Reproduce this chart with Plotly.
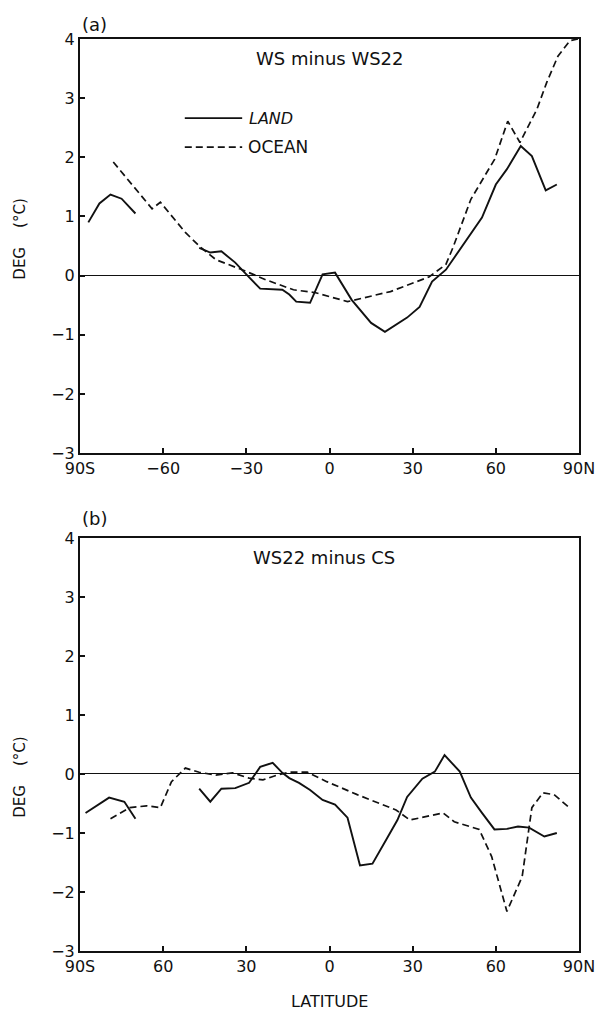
import plotly.graph_objects as go

# ---------------- data ----------------
lat_land_a = [-87, -83, -79, -75, -70, None, -47, -43, -39, -34, -30, -25, -17, -14.5, -12, -7, -2.5, 2, 8, 15, 20,
              28, 32.5, 37, 42, 49.5, 55, 60, 64, 69, 73, 78, 82]
val_land_a = [0.9, 1.22, 1.37, 1.3, 1.05, None, 0.47, 0.39, 0.41, 0.22, 0.02, -0.22, -0.24, -0.32, -0.44, -0.46, 0.02,
              0.05, -0.41, -0.8, -0.95, -0.71, -0.53, -0.1, 0.1, 0.62, 0.98, 1.54, 1.8, 2.19, 2.02, 1.44, 1.54]

lat_ocean_a = [-78, -72, -64, -61, -52, -47, -41, -30, -23, -13, -5, 6.5, 22, 36, 42, 44.5, 51, 59.6, 64.3, 68.7,
               74.8, 78.4, 82.4, 86.7, 89.6]
val_ocean_a = [1.92, 1.58, 1.13, 1.24, 0.73, 0.5, 0.27, 0.07, -0.07, -0.24, -0.29, -0.44, -0.27, -0.02, 0.19, 0.47,
               1.29, 1.97, 2.61, 2.25, 2.81, 3.27, 3.71, 3.97, 4.0]

lat_land_b = [-88, -79.5, -74, -70, None, -47, -43, -39, -34, -29, -25, -20.5, -17, -14.5, -11, -7, -2.5, 2, 6.5, 11,
              15.5, 20.5, 24.5, 28, 33.5, 38, 41.5, 47, 51, 55, 59.5, 64, 68, 72, 77.5, 82]
val_land_b = [-0.66, -0.4, -0.47, -0.76, None, -0.25, -0.47, -0.25, -0.24, -0.15, 0.12, 0.19, 0.02, -0.07, -0.15, -0.27,
              -0.44, -0.52, -0.74, -1.55, -1.52, -1.11, -0.78, -0.39, -0.08, 0.04, 0.32, 0.04, -0.4, -0.66, -0.94,
              -0.93, -0.89, -0.91, -1.06, -1.0]

lat_ocean_b = [-79, -72, -66, -61, -57, -52, -47, -41, -35, -29, -24, -19, -14.5, -8, -1, 10, 24, 29, 41, 45, 54,
               58.5, 64, 69.5, 73, 77, 81, 86.5]
val_ocean_b = [-0.76, -0.57, -0.54, -0.57, -0.13, 0.1, 0.03, -0.02, 0.02, -0.07, -0.1, -0.02, 0.03, 0.03, -0.13, -0.35,
               -0.61, -0.78, -0.66, -0.81, -0.94, -1.4, -2.33, -1.74, -0.57, -0.32, -0.35, -0.57]

x_tickvals = [-90, -60, -30, 0, 30, 60, 90]
x_ticktext_a = ["90S", "−60", "−30", "0", "30", "60", "90N"]
x_ticktext_b = ["90S", "60", "30", "0", "30", "60", "90N"]
y_tickvals = [-3, -2, -1, 0, 1, 2, 3, 4]

FONT = "DejaVu Sans, Liberation Sans, sans-serif"
BLACK = "#111111"
DASH = "7px,4px"
NB = "\u00a0"

fig = go.Figure()
fig.add_trace(go.Scatter(x=lat_land_a, y=val_land_a, mode="lines", line=dict(color=BLACK, width=1.9),
                         connectgaps=False, xaxis="x", yaxis="y", showlegend=False))
fig.add_trace(go.Scatter(x=lat_ocean_a, y=val_ocean_a, mode="lines", line=dict(color=BLACK, width=1.7, dash=DASH),
                         xaxis="x", yaxis="y", showlegend=False))
fig.add_trace(go.Scatter(x=lat_land_b, y=val_land_b, mode="lines", line=dict(color=BLACK, width=1.9),
                         connectgaps=False, xaxis="x2", yaxis="y2", showlegend=False))
fig.add_trace(go.Scatter(x=lat_ocean_b, y=val_ocean_b, mode="lines", line=dict(color=BLACK, width=1.7, dash=DASH),
                         xaxis="x2", yaxis="y2", showlegend=False))

axis_common = dict(showgrid=False, showline=True, linecolor=BLACK, linewidth=2, mirror=True,
                   ticks="inside", ticklen=5, tickwidth=1.5, tickcolor=BLACK, automargin=False,
                   tickfont=dict(family=FONT, size=16, color=BLACK))

fig.update_layout(
    width=597, height=1011,
    margin=dict(l=80, r=18, t=39, b=60, autoexpand=False),
    paper_bgcolor="white", plot_bgcolor="white",
    font=dict(family=FONT, color=BLACK),
    hovermode=False,
    xaxis=dict(domain=[0, 1], range=[-90, 90], tickvals=x_tickvals, ticktext=x_ticktext_a,
               zeroline=False, anchor="y", **axis_common),
    yaxis=dict(domain=[0.546, 1], range=[-3, 4], tickvals=y_tickvals, zeroline=True, zerolinecolor=BLACK,
               zerolinewidth=1.2, anchor="x", **axis_common),
    xaxis2=dict(domain=[0, 1], range=[-90, 90], tickvals=x_tickvals, ticktext=x_ticktext_b,
                zeroline=False, anchor="y2", **axis_common),
    yaxis2=dict(domain=[0, 0.4529], range=[-3, 4], tickvals=y_tickvals, zeroline=True, zerolinecolor=BLACK,
                zerolinewidth=1.2, anchor="x2", **axis_common),
)

# legend samples (panel a)
fig.add_shape(type="line", xref="x domain", yref="y domain", x0=0.21, x1=0.325, y0=0.809, y1=0.809,
              line=dict(color=BLACK, width=1.9))
fig.add_shape(type="line", xref="x domain", yref="y domain", x0=0.21, x1=0.325, y0=0.739, y1=0.739,
              line=dict(color=BLACK, width=1.7, dash=DASH))

ytitle = "DEG" + NB * 4 + "(°C)"
annots = [
    dict(text="<i>LAND</i>", xref="x domain", yref="y domain", x=0.335, y=0.809, xanchor="left", yanchor="middle",
         font=dict(size=16)),
    dict(text="OCEAN", xref="x domain", yref="y domain", x=0.333, y=0.739, xanchor="left", yanchor="middle",
         font=dict(size=17)),
    dict(text="WS minus WS22", xref="x domain", yref="y domain", x=0.501, y=0.954, xanchor="center",
         yanchor="middle", font=dict(size=18)),
    dict(text="(a)", xref="x domain", yref="y domain", x=0.0, y=1.036, xanchor="left", yanchor="middle",
         font=dict(size=18)),
    dict(text="WS22 minus CS", xref="x2 domain", yref="y2 domain", x=0.489, y=0.952, xanchor="center",
         yanchor="middle", font=dict(size=18)),
    dict(text="(b)", xref="x2 domain", yref="y2 domain", x=0.0, y=1.046, xanchor="left", yanchor="middle",
         font=dict(size=18)),
    dict(text="LATITUDE", xref="paper", yref="paper", x=0.501, y=-0.0555, xanchor="center", yanchor="middle",
         font=dict(size=16)),
    dict(text=ytitle, xref="paper", yref="paper", x=-0.1202, y=0.780, xanchor="center", yanchor="middle",
         textangle=-90, font=dict(size=15)),
    dict(text=ytitle, xref="paper", yref="paper", x=-0.1202, y=0.190, xanchor="center", yanchor="middle",
         textangle=-90, font=dict(size=15)),
]
for a in annots:
    a["showarrow"] = False
    a["font"]["family"] = FONT
    a["font"]["color"] = BLACK
    fig.add_annotation(**a)

# remove the page's default body margin so the figure fills the window exactly
fig.write_html("out.html", config={"displayModeBar": False},
               post_script="document.body.style.margin='0';document.body.style.overflow='hidden';")
